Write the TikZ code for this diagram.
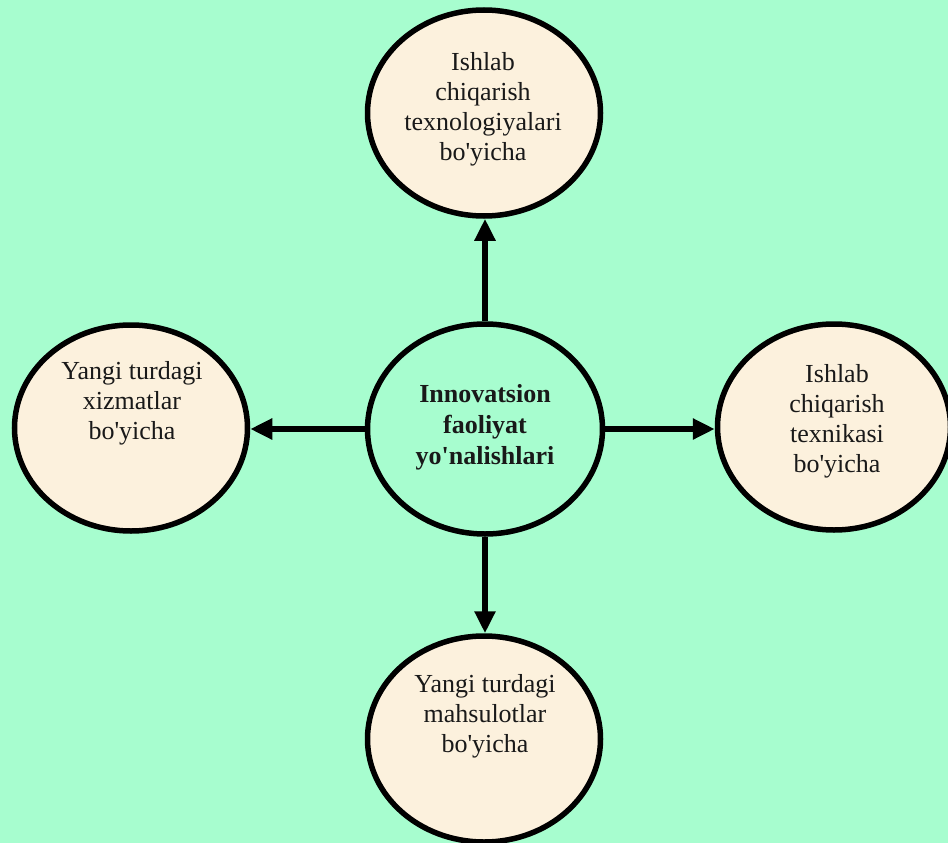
\documentclass[tikz,border=0pt]{standalone}
\usepackage{fontspec}
\setmainfont{Liberation Serif}[Ligatures=TeXOff]
\usetikzlibrary{shapes.geometric,arrows.meta}
\definecolor{bggreen}{RGB}{167,253,207}
\definecolor{cream}{RGB}{252,241,221}
\tikzset{
  bubble/.style={ellipse,draw=black,line width=5.5pt,fill=cream,inner sep=0pt,minimum width=233pt,minimum height=206pt},
  hub/.style={bubble,fill=bggreen,minimum width=235pt,minimum height=210pt},
  txt/.style={align=center,font=\fontsize{26pt}{30pt}\selectfont,inner sep=0pt,text=black!90},
  arr/.style={line width=5.5pt,-{Triangle[length=22pt,width=20pt]}}
}
\begin{document}
\begin{tikzpicture}[x=1pt,y=-1pt]
\path[use as bounding box,fill=bggreen] (0,0) rectangle (948,843);
\clip (0,0) rectangle (948,843);
\node[hub] (c) at (485,429) {};
\node[bubble] (t) at (484,113) {};
\node[bubble] (l) at (131,428) {};
\node[bubble] (r) at (834,427) {};
\node[bubble] (b) at (484,739) {};
\node[txt,font=\fontsize{26pt}{31pt}\selectfont\bfseries] (ct) at (485,427) {Innovatsion\\faoliyat\\yo'nalishlari};
\node[txt] (tt) at (483,109) {Ishlab\\chiqarish\\texnologiyalari\\bo'yicha};
\node[txt] (lt) at (132,403) {Yangi turdagi\\xizmatlar\\bo'yicha};
\node[txt] (rt) at (837,421) {Ishlab\\chiqarish\\texnikasi\\bo'yicha};
\node[txt] (bt) at (485,716) {Yangi turdagi\\mahsulotlar\\bo'yicha};
\draw[arr] (c.north) -- (c.north |- t.south);
\draw[arr] (c.west) -- (c.west -| l.east);
\draw[arr] (c.east) -- (c.east -| r.west);
\draw[arr] (c.south) -- (c.south |- b.north);
\end{tikzpicture}
\end{document}
